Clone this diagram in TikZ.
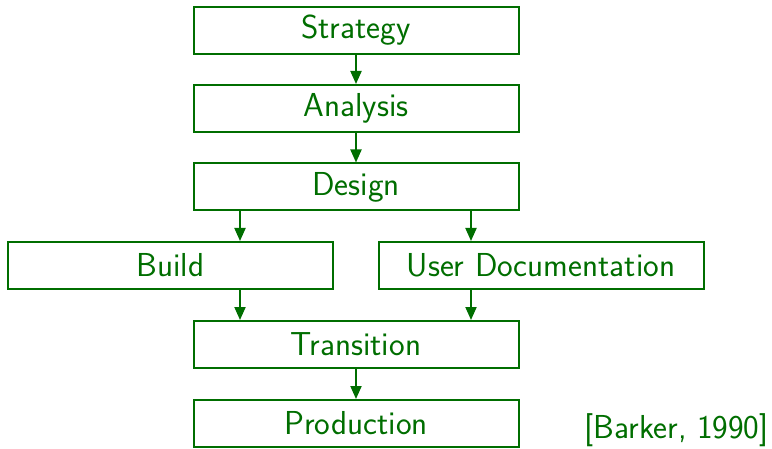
\documentclass[tikz,border=0pt]{standalone}
\usepackage{fontspec}
\usetikzlibrary{arrows.meta}
\definecolor{dgreen}{RGB}{0,110,0}
\begin{document}
\begin{tikzpicture}[x=0.5pt,y=-0.5pt,
  every node/.style={text=dgreen,font=\sffamily\fontsize{16.6}{19}\selectfont},
  stagebox/.style={draw=dgreen,line width=1pt,minimum width=162.5pt,minimum height=23.5pt,inner sep=0pt},
  flow/.style={draw=dgreen,line width=1pt,-{Triangle[length=6.5pt,width=5.5pt]}}]
\useasboundingbox (0,0) rectangle (772,449);
\node[stagebox] (st) at (356,30.5) {Strategy};
\node[stagebox] (an) at (356,108.5) {Analysis};
\node[stagebox] (de) at (356,187) {Design};
\node[stagebox] (bu) at (170.5,265.5) {Build};
\node[stagebox] (ud) at (541,265.5) {User Documentation};
\node[stagebox] (tr) at (356,344.5) {Transition};
\node[stagebox] (pr) at (356,423.5) {Production};
\node[anchor=base east,inner sep=0pt] (cite) at (769,438) {[Barker, 1990]};
\coordinate (cl) at (240,0);
\coordinate (cr) at (471,0);
\draw[flow] (st) -- (an);
\draw[flow] (an) -- (de);
\draw[flow] (de.south -| cl) -- (bu.north -| cl);
\draw[flow] (de.south -| cr) -- (ud.north -| cr);
\draw[flow] (bu.south -| cl) -- (tr.north -| cl);
\draw[flow] (ud.south -| cr) -- (tr.north -| cr);
\draw[flow] (tr) -- (pr);
\end{tikzpicture}
\end{document}
